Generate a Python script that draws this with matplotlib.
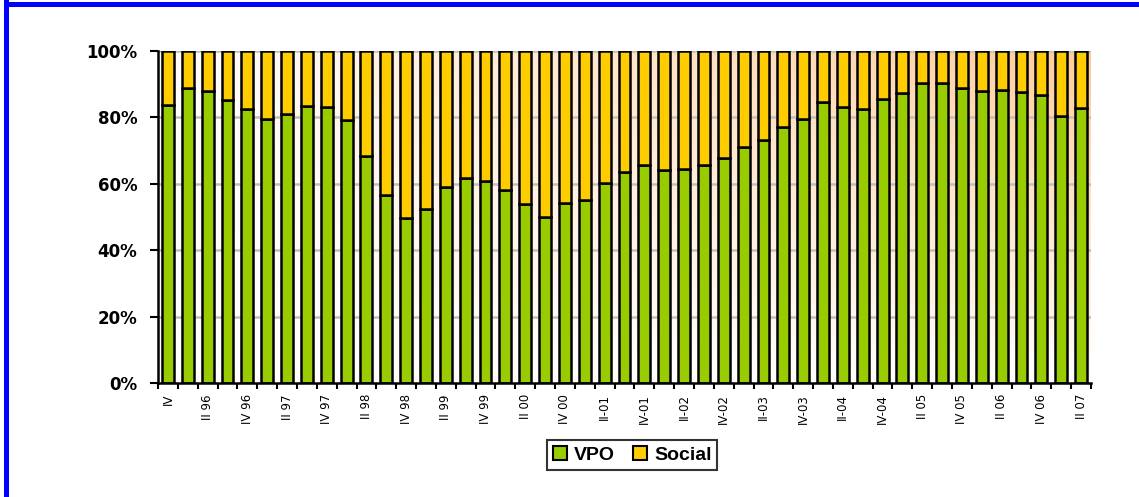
import numpy as np
import matplotlib
matplotlib.use('Agg')
import matplotlib.pyplot as plt
from matplotlib.patches import Rectangle, Patch
from matplotlib.colors import LinearSegmentedColormap

# quarters IV 95 .. II 07, every other one labelled
labels = ['IV', '', 'II 96', '', 'IV 96', '', 'II 97', '', 'IV 97', '',
          'II 98', '', 'IV 98', '', 'II 99', '', 'IV 99', '', 'II 00', '',
          'IV 00', '', 'II-01', '', 'IV-01', '', 'II-02', '', 'IV-02', '',
          'II-03', '', 'IV-03', '', 'II-04', '', 'IV-04', '', 'II 05', '',
          'IV 05', '', 'II 06', '', 'IV 06', '', 'II 07']

vpo = [83.7, 88.8, 88.0, 85.2, 82.4, 79.4, 81.0, 83.4, 83.2, 79.3,
       68.4, 56.6, 49.7, 52.3, 58.9, 61.8, 60.7, 58.2, 53.9, 49.9,
       54.1, 55.0, 60.2, 63.6, 65.7, 64.2, 64.6, 65.7, 67.7, 71.0,
       73.2, 77.2, 79.5, 84.5, 83.2, 82.5, 85.4, 87.3, 90.4, 90.4,
       89.0, 88.1, 88.3, 87.8, 86.8, 80.4, 82.9]
social = [100 - v for v in vpo]

green = '#99CC00'
yellow = '#FFCC00'

W, H = 1139, 497
fig = plt.figure(figsize=(W / 100, H / 100), dpi=100)
ax = fig.add_axes([158 / W, 1 - 383 / H, (1091 - 158) / W, (383 - 51) / H])

x = np.arange(len(vpo))
n = len(vpo)

# gradient background: white bottom-left -> peach top-right
xs = np.linspace(0, 1, 200)
ys = np.linspace(0, 1, 100)
gx, gy = np.meshgrid(xs, ys)
grad = (gx * gy) ** 0.95
cmap = LinearSegmentedColormap.from_list('bg', ['#FFFFFF', '#FFCC99'])
ax.imshow(grad, extent=[-0.5, n - 0.5, 0, 100], origin='lower',
          cmap=cmap, aspect='auto', zorder=0, vmin=0, vmax=1)

for yv in [20, 40, 60, 80, 100]:
    ax.axhline(yv, color='#C0C0C0', lw=1.8, zorder=1)

ax.bar(x, vpo, width=0.6, color=green, edgecolor='black', lw=1.8, zorder=2)
ax.bar(x, social, bottom=vpo, width=0.6, color=yellow, edgecolor='black',
       lw=1.8, zorder=2)

ax.set_xlim(-0.5, n - 0.5)
ax.set_ylim(0, 100)

ax.set_yticks([0, 20, 40, 60, 80, 100])
ax.set_yticklabels(['0%', '20%', '40%', '60%', '80%', '100%'],
                   fontsize=12, fontweight='bold', family='DejaVu Sans')
ax.tick_params(axis='y', direction='out', length=6, width=1.5, pad=9)

ax.set_xticks(x)
ax.set_xticklabels(labels, rotation=90, fontsize=8.5, family='DejaVu Sans',
                   va='top')
ax.set_xticks(np.arange(-0.5, n, 1), minor=True)
ax.tick_params(axis='x', which='major', length=0, pad=8)
ax.tick_params(axis='x', which='minor', direction='out', length=4, width=1.5)

for s in ['top', 'right']:
    ax.spines[s].set_visible(False)
for s in ['left', 'bottom']:
    ax.spines[s].set_linewidth(1.8)
    ax.spines[s].set_zorder(3)

handles = [Patch(facecolor=green, edgecolor='black', lw=1.5, label='VPO'),
           Patch(facecolor=yellow, edgecolor='black', lw=1.5, label='Social')]
leg = fig.legend(handles=handles, loc='center', bbox_to_anchor=(632 / W, 1 - 455 / H),
                 ncol=2, frameon=True, fancybox=False, handlelength=0.75,
                 handleheight=0.75, handletextpad=0.35, columnspacing=0.9,
                 borderpad=0.3, borderaxespad=0,
                 prop={'family': 'Liberation Sans', 'weight': 'bold', 'size': 14})
leg.get_frame().set_edgecolor('black')
leg.get_frame().set_linewidth(1.5)

# blue frame on top and left edges
fig.patches.append(Rectangle((4 / W, 0), 5 / W, 1, transform=fig.transFigure,
                             facecolor='#0000FF', edgecolor='none'))
fig.patches.append(Rectangle((4 / W, 1 - 7 / H), 1, 5 / H, transform=fig.transFigure,
                             facecolor='#0000FF', edgecolor='none'))

fig.savefig('out.png', dpi=100)
